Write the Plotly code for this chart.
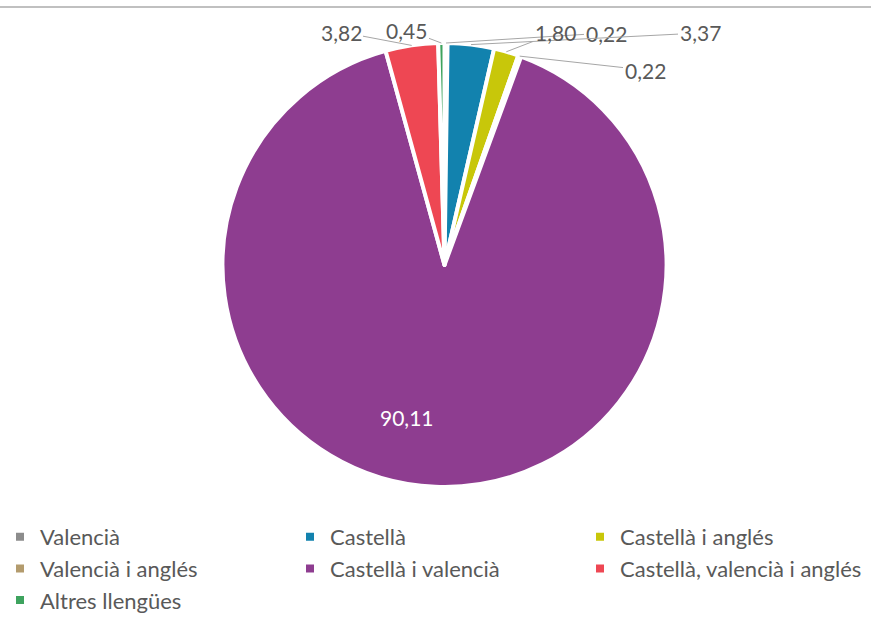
import math
import plotly.graph_objects as go

# ---- data ----
labels = ["Valencià", "Castellà", "Castellà i anglés", "Valencià i anglés",
          "Castellà i valencià", "Castellà, valencià i anglés", "Altres llengües"]
values = [0.22, 3.37, 1.80, 0.22, 90.11, 3.82, 0.45]
value_text = ["0,22", "3,37", "1,80", "0,22", "90,11", "3,82", "0,45"]

# ---- style ----
colors = ["#8c8c8c", "#1282ae", "#c8c70a", "#b39b6d", "#8e3d90", "#ee4753", "#3ea35e"]
W, H = 871, 619
CX, CY, R = 444.5, 265.0, 222.0          # pie centre / radius in pixels
# label centres (pixels) for each slice's value text
label_px = [(606, 33), (700, 33), (555, 33), (645, 70), (407, 432), (341, 32), (407, 30)]
FONT = "Lato"
TXT = "#595959"

fig = go.Figure(go.Pie(
    labels=labels, values=values, sort=False, direction="clockwise", rotation=0,
    marker=dict(colors=colors, line=dict(color="white", width=4)),
    textinfo="none", hoverinfo="label+value",
    domain=dict(x=[(CX - R) / W, (CX + R) / W], y=[1 - (CY + R) / H, 1 - (CY - R) / H]),
))

total = sum(values)
cum = 0.0
annotations = []
for i, v in enumerate(values):
    mid = (cum + v / 2) / total * 2 * math.pi
    cum += v
    tx = CX + R * math.sin(mid)
    ty = CY - R * math.cos(mid)
    lx, ly = label_px[i]
    if v > 50:
        annotations.append(dict(x=lx / W, y=1 - ly / H, xref="paper", yref="paper",
                                text=value_text[i], showarrow=False,
                                font=dict(family=FONT, size=21, color="white")))
    else:
        annotations.append(dict(x=tx / W, y=1 - ty / H, xref="paper", yref="paper",
                                text=value_text[i], showarrow=True, arrowhead=0,
                                arrowwidth=1, arrowcolor="#a6a6a6",
                                ax=lx - tx, ay=ly - ty, standoff=0,
                                font=dict(family=FONT, size=21, color=TXT)))

fig.update_layout(
    width=W, height=H, margin=dict(l=0, r=0, t=0, b=0, autoexpand=False),
    paper_bgcolor="white", plot_bgcolor="white",
    annotations=annotations,
    shapes=[dict(type="line", xref="paper", yref="paper", x0=0, x1=1,
                 y0=1 - 7 / H, y1=1 - 7 / H, line=dict(color="#c0c0c0", width=2))],
    legend=dict(orientation="h", x=0, xanchor="left", y=1 - 516 / H, yanchor="top",
                entrywidth=245, entrywidthmode="pixels",
                font=dict(family=FONT, size=22, color=TXT), bgcolor="rgba(0,0,0,0)"),
    showlegend=True,
)

fig.write_html("out.html")
